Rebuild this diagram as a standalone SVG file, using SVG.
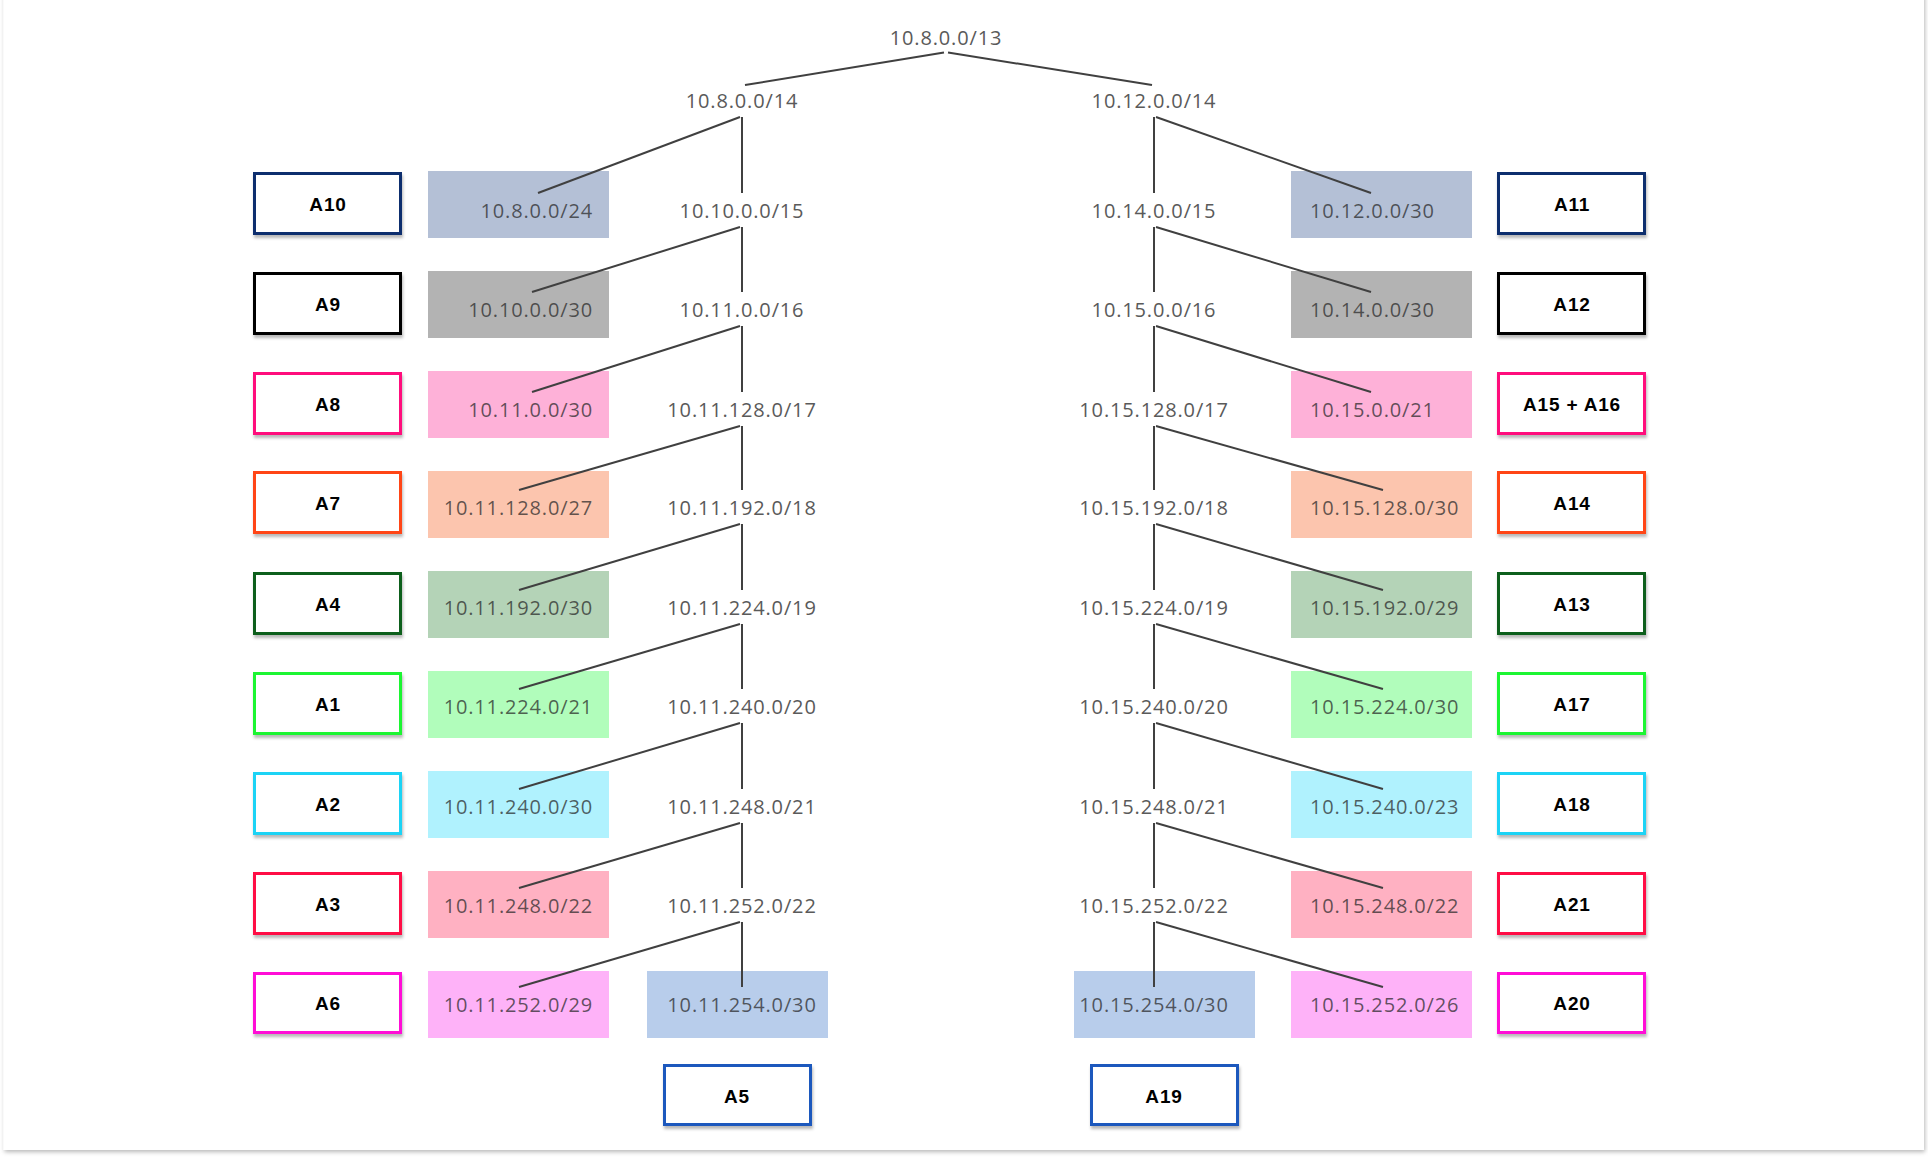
<svg xmlns="http://www.w3.org/2000/svg" width="1928" height="1158" viewBox="0 0 1928 1158">
<defs>
  <filter id="pageShadow" x="-2%" y="-2%" width="104%" height="104%">
    <feDropShadow dx="1" dy="2" stdDeviation="2" flood-color="#000" flood-opacity="0.28"/>
  </filter>
  <filter id="boxShadow" x="-10%" y="-20%" width="120%" height="150%">
    <feDropShadow dx="1" dy="3" stdDeviation="1.6" flood-color="#000" flood-opacity="0.28"/>
  </filter>
</defs>
<style>
  .lbl { font-family: "Open Sans", "DejaVu Sans", sans-serif; font-size: 20px; letter-spacing: 0.85px; fill: #5a5a5a; text-anchor: middle; }
  .sub { font-family: "Open Sans", "DejaVu Sans", sans-serif; font-size: 20px; letter-spacing: 0.85px; fill: #262626; fill-opacity: 0.72; }
  .subL { text-anchor: end; }
  .subR { text-anchor: start; }
  .subC { text-anchor: middle; }
  .abox { fill: #ffffff; stroke-width: 3; filter: url(#boxShadow); }
  .atxt { font-family: "Liberation Sans", Arial, sans-serif; font-weight: bold; font-size: 19px; letter-spacing: 0.8px; fill: #000; text-anchor: middle; }
  .conn path { stroke: #404040; stroke-width: 2; fill: none; }
  .f-navy { fill: #b4c0d6; } .s-navy { stroke: #0b2d6e; }
  .f-black { fill: #b3b3b3; } .s-black { stroke: #000000; }
  .f-pink { fill: #feb1d8; } .s-pink { stroke: #ff0f7b; }
  .f-orange { fill: #fcc5ae; } .s-orange { stroke: #ff4513; }
  .f-dgreen { fill: #b4d3b7; } .s-dgreen { stroke: #0e5e1e; }
  .f-green { fill: #b1fdbb; } .s-green { stroke: #1cf532; }
  .f-cyan { fill: #b0f2fe; } .s-cyan { stroke: #1ad3f5; }
  .f-red { fill: #ffb1c2; } .s-red { stroke: #ff0a45; }
  .f-magenta { fill: #feb2f8; } .s-magenta { stroke: #ff10d6; }
  .f-blue { fill: #b8cdeb; } .s-blue { stroke: #1c59bd; }
</style>
<rect x="0" y="0" width="1928" height="1158" fill="#ffffff"/>
<rect x="3.5" y="-6" width="1920.5" height="1156" fill="#ffffff" filter="url(#pageShadow)"/>

<!-- tree labels -->
<g id="n-10.8.0.0-13"><text class="lbl" x="946" y="45">10.8.0.0/13</text></g>
<g id="n-10.8.0.0-14"><text class="lbl" x="742" y="108">10.8.0.0/14</text></g>
<g id="n-10.12.0.0-14"><text class="lbl" x="1154" y="108">10.12.0.0/14</text></g>

<g id="n-10.10.0.0-15"><text class="lbl" x="742" y="218">10.10.0.0/15</text></g>
<g id="n-10.11.0.0-16"><text class="lbl" x="742" y="317">10.11.0.0/16</text></g>
<g id="n-10.11.128.0-17"><text class="lbl" x="742" y="417">10.11.128.0/17</text></g>
<g id="n-10.11.192.0-18"><text class="lbl" x="742" y="515">10.11.192.0/18</text></g>
<g id="n-10.11.224.0-19"><text class="lbl" x="742" y="615">10.11.224.0/19</text></g>
<g id="n-10.11.240.0-20"><text class="lbl" x="742" y="714">10.11.240.0/20</text></g>
<g id="n-10.11.248.0-21"><text class="lbl" x="742" y="814">10.11.248.0/21</text></g>
<g id="n-10.11.252.0-22"><text class="lbl" x="742" y="913">10.11.252.0/22</text></g>

<g id="n-10.14.0.0-15"><text class="lbl" x="1154" y="218">10.14.0.0/15</text></g>
<g id="n-10.15.0.0-16"><text class="lbl" x="1154" y="317">10.15.0.0/16</text></g>
<g id="n-10.15.128.0-17"><text class="lbl" x="1154" y="417">10.15.128.0/17</text></g>
<g id="n-10.15.192.0-18"><text class="lbl" x="1154" y="515">10.15.192.0/18</text></g>
<g id="n-10.15.224.0-19"><text class="lbl" x="1154" y="615">10.15.224.0/19</text></g>
<g id="n-10.15.240.0-20"><text class="lbl" x="1154" y="714">10.15.240.0/20</text></g>
<g id="n-10.15.248.0-21"><text class="lbl" x="1154" y="814">10.15.248.0/21</text></g>
<g id="n-10.15.252.0-22"><text class="lbl" x="1154" y="913">10.15.252.0/22</text></g>

<!-- left subnets -->
<g id="s-10.8.0.0-24"><rect class="f-navy" x="428" y="171" width="181" height="67"/><text class="sub subL" x="593" y="218">10.8.0.0/24</text></g>
<g id="s-10.10.0.0-30"><rect class="f-black" x="428" y="271" width="181" height="67"/><text class="sub subL" x="593" y="317">10.10.0.0/30</text></g>
<g id="s-10.11.0.0-30"><rect class="f-pink" x="428" y="371" width="181" height="67"/><text class="sub subL" x="593" y="417">10.11.0.0/30</text></g>
<g id="s-10.11.128.0-27"><rect class="f-orange" x="428" y="471" width="181" height="67"/><text class="sub subL" x="593" y="515">10.11.128.0/27</text></g>
<g id="s-10.11.192.0-30"><rect class="f-dgreen" x="428" y="571" width="181" height="67"/><text class="sub subL" x="593" y="615">10.11.192.0/30</text></g>
<g id="s-10.11.224.0-21"><rect class="f-green" x="428" y="671" width="181" height="67"/><text class="sub subL" x="593" y="714">10.11.224.0/21</text></g>
<g id="s-10.11.240.0-30"><rect class="f-cyan" x="428" y="771" width="181" height="67"/><text class="sub subL" x="593" y="814">10.11.240.0/30</text></g>
<g id="s-10.11.248.0-22"><rect class="f-red" x="428" y="871" width="181" height="67"/><text class="sub subL" x="593" y="913">10.11.248.0/22</text></g>
<g id="s-10.11.252.0-29"><rect class="f-magenta" x="428" y="971" width="181" height="67"/><text class="sub subL" x="593" y="1012">10.11.252.0/29</text></g>
<g id="s-10.11.254.0-30"><rect class="f-blue" x="647" y="971" width="181" height="67"/><text class="sub subC" x="742" y="1012">10.11.254.0/30</text></g>

<!-- right subnets -->
<g id="s-10.12.0.0-30"><rect class="f-navy" x="1291" y="171" width="181" height="67"/><text class="sub subR" x="1310" y="218">10.12.0.0/30</text></g>
<g id="s-10.14.0.0-30"><rect class="f-black" x="1291" y="271" width="181" height="67"/><text class="sub subR" x="1310" y="317">10.14.0.0/30</text></g>
<g id="s-10.15.0.0-21"><rect class="f-pink" x="1291" y="371" width="181" height="67"/><text class="sub subR" x="1310" y="417">10.15.0.0/21</text></g>
<g id="s-10.15.128.0-30"><rect class="f-orange" x="1291" y="471" width="181" height="67"/><text class="sub subR" x="1310" y="515">10.15.128.0/30</text></g>
<g id="s-10.15.192.0-29"><rect class="f-dgreen" x="1291" y="571" width="181" height="67"/><text class="sub subR" x="1310" y="615">10.15.192.0/29</text></g>
<g id="s-10.15.224.0-30"><rect class="f-green" x="1291" y="671" width="181" height="67"/><text class="sub subR" x="1310" y="714">10.15.224.0/30</text></g>
<g id="s-10.15.240.0-23"><rect class="f-cyan" x="1291" y="771" width="181" height="67"/><text class="sub subR" x="1310" y="814">10.15.240.0/23</text></g>
<g id="s-10.15.248.0-22"><rect class="f-red" x="1291" y="871" width="181" height="67"/><text class="sub subR" x="1310" y="913">10.15.248.0/22</text></g>
<g id="s-10.15.252.0-26"><rect class="f-magenta" x="1291" y="971" width="181" height="67"/><text class="sub subR" x="1310" y="1012">10.15.252.0/26</text></g>
<g id="s-10.15.254.0-30"><rect class="f-blue" x="1074" y="971" width="181" height="67"/><text class="sub subC" x="1154" y="1012">10.15.254.0/30</text></g>

<!-- connectors drawn over the subnet boxes -->
<g id="connectors" class="conn">
  <path d="M944 52.5 L745 85"/>
  <path d="M948 52.5 L1152 85"/>
  <path d="M742 117 V193"/><path d="M740 117 L538 193"/>
  <path d="M742 227 V292"/><path d="M740 227 L532 292"/>
  <path d="M742 326 V392"/><path d="M740 326 L532 392"/>
  <path d="M742 426 V490"/><path d="M740 426 L519 490"/>
  <path d="M742 524 V590"/><path d="M740 524 L519 590"/>
  <path d="M742 624 V689"/><path d="M740 624 L519 689"/>
  <path d="M742 723 V789"/><path d="M740 723 L519 789"/>
  <path d="M742 823 V888"/><path d="M740 823 L519 888"/>
  <path d="M742 922 V987"/><path d="M740 922 L519 987"/>
  <path d="M1154 117 V193"/><path d="M1156 117 L1371 193"/>
  <path d="M1154 227 V292"/><path d="M1156 227 L1371 292"/>
  <path d="M1154 326 V392"/><path d="M1156 326 L1371 392"/>
  <path d="M1154 426 V490"/><path d="M1156 426 L1383 490"/>
  <path d="M1154 524 V590"/><path d="M1156 524 L1383 590"/>
  <path d="M1154 624 V689"/><path d="M1156 624 L1383 689"/>
  <path d="M1154 723 V789"/><path d="M1156 723 L1383 789"/>
  <path d="M1154 823 V888"/><path d="M1156 823 L1383 888"/>
  <path d="M1154 922 V987"/><path d="M1156 922 L1383 987"/>
</g>

<!-- left area boxes -->
<g id="A10"><rect class="abox s-navy" x="254.5" y="173.5" width="146" height="60"/><text class="atxt" x="328" y="211">A10</text></g>
<g id="A9"><rect class="abox s-black" x="254.5" y="273.5" width="146" height="60"/><text class="atxt" x="328" y="311">A9</text></g>
<g id="A8"><rect class="abox s-pink" x="254.5" y="373.5" width="146" height="60"/><text class="atxt" x="328" y="411">A8</text></g>
<g id="A7"><rect class="abox s-orange" x="254.5" y="472.5" width="146" height="60"/><text class="atxt" x="328" y="510">A7</text></g>
<g id="A4"><rect class="abox s-dgreen" x="254.5" y="573.5" width="146" height="60"/><text class="atxt" x="328" y="611">A4</text></g>
<g id="A1"><rect class="abox s-green" x="254.5" y="673.5" width="146" height="60"/><text class="atxt" x="328" y="711">A1</text></g>
<g id="A2"><rect class="abox s-cyan" x="254.5" y="773.5" width="146" height="60"/><text class="atxt" x="328" y="811">A2</text></g>
<g id="A3"><rect class="abox s-red" x="254.5" y="873.5" width="146" height="60"/><text class="atxt" x="328" y="911">A3</text></g>
<g id="A6"><rect class="abox s-magenta" x="254.5" y="973.5" width="146" height="59"/><text class="atxt" x="328" y="1010">A6</text></g>
<g id="A5"><rect class="abox s-blue" x="664.5" y="1065.5" width="146" height="59"/><text class="atxt" x="737" y="1103">A5</text></g>

<!-- right area boxes -->
<g id="A11"><rect class="abox s-navy" x="1498.5" y="173.5" width="146" height="60"/><text class="atxt" x="1572" y="211">A11</text></g>
<g id="A12"><rect class="abox s-black" x="1498.5" y="273.5" width="146" height="60"/><text class="atxt" x="1572" y="311">A12</text></g>
<g id="A15_A16"><rect class="abox s-pink" x="1498.5" y="373.5" width="146" height="60"/><text class="atxt" x="1572" y="411">A15 + A16</text></g>
<g id="A14"><rect class="abox s-orange" x="1498.5" y="472.5" width="146" height="60"/><text class="atxt" x="1572" y="510">A14</text></g>
<g id="A13"><rect class="abox s-dgreen" x="1498.5" y="573.5" width="146" height="60"/><text class="atxt" x="1572" y="611">A13</text></g>
<g id="A17"><rect class="abox s-green" x="1498.5" y="673.5" width="146" height="60"/><text class="atxt" x="1572" y="711">A17</text></g>
<g id="A18"><rect class="abox s-cyan" x="1498.5" y="773.5" width="146" height="60"/><text class="atxt" x="1572" y="811">A18</text></g>
<g id="A21"><rect class="abox s-red" x="1498.5" y="873.5" width="146" height="60"/><text class="atxt" x="1572" y="911">A21</text></g>
<g id="A20"><rect class="abox s-magenta" x="1498.5" y="973.5" width="146" height="59"/><text class="atxt" x="1572" y="1010">A20</text></g>
<g id="A19"><rect class="abox s-blue" x="1091.5" y="1065.5" width="146" height="59"/><text class="atxt" x="1164" y="1103">A19</text></g>
</svg>
